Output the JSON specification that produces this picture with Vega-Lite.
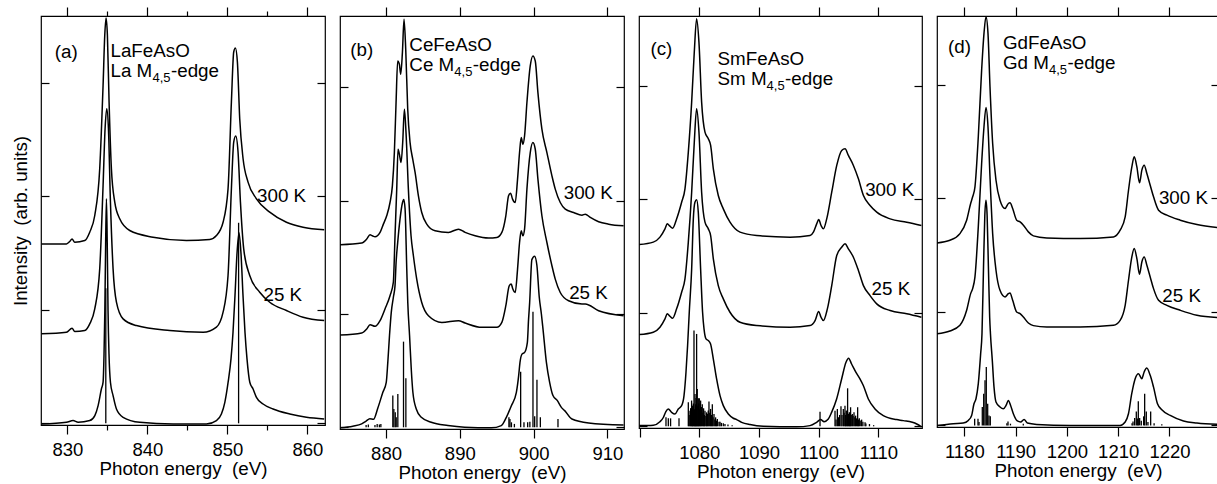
{
"$schema": "https://vega.github.io/schema/vega-lite/v6.json",
"padding": {"left": 10, "top": 5, "right": 0, "bottom": 0},
"background": "white",
"bounds": "flush",
"spacing": 15,
"config": {
  "view": {"stroke": "black", "strokeWidth": 1.2},
  "font": "Liberation Sans",
  "axis": {"domain": false, "grid": false, "tickColor": "black", "tickWidth": 1.2, "labelColor": "black", "titleColor": "black", "labelFont": "Liberation Sans", "titleFont": "Liberation Sans", "labelFontSize": 18.5, "titleFontSize": 18.8, "titleFontWeight": "normal", "labelPadding": 6, "titlePadding": 1, "format": "d"},
  "text": {"font": "Liberation Sans", "fontSize": 18.8, "color": "black"}
},
"datasets": {
"curves": [
{"p":"a","s":"300 K","x":826.75,"y":1.581},{"p":"a","s":"300 K","x":829.88,"y":1.581},{"p":"a","s":"300 K","x":830.29,"y":1.602},{"p":"a","s":"300 K","x":830.58,"y":1.625},{"p":"a","s":"300 K","x":830.92,"y":1.596},{"p":"a","s":"300 K","x":832.17,"y":1.611},{"p":"a","s":"300 K","x":832.79,"y":1.684},{"p":"a","s":"300 K","x":833.42,"y":1.831},{"p":"a","s":"300 K","x":834.04,"y":2.243},{"p":"a","s":"300 K","x":834.46,"y":2.978},{"p":"a","s":"300 K","x":834.67,"y":3.419},{"p":"a","s":"300 K","x":834.83,"y":3.571},{"p":"a","s":"300 K","x":835.0,"y":3.419},{"p":"a","s":"300 K","x":835.21,"y":2.831},{"p":"a","s":"300 K","x":835.5,"y":2.243},{"p":"a","s":"300 K","x":835.92,"y":1.949},{"p":"a","s":"300 K","x":836.54,"y":1.802},{"p":"a","s":"300 K","x":837.79,"y":1.699},{"p":"a","s":"300 K","x":840.71,"y":1.64},{"p":"a","s":"300 K","x":844.88,"y":1.611},{"p":"a","s":"300 K","x":847.79,"y":1.62},{"p":"a","s":"300 K","x":848.63,"y":1.655},{"p":"a","s":"300 K","x":849.46,"y":1.772},{"p":"a","s":"300 K","x":850.08,"y":2.066},{"p":"a","s":"300 K","x":850.5,"y":2.831},{"p":"a","s":"300 K","x":850.79,"y":3.272},{"p":"a","s":"300 K","x":851.0,"y":3.307},{"p":"a","s":"300 K","x":851.25,"y":3.183},{"p":"a","s":"300 K","x":851.54,"y":2.684},{"p":"a","s":"300 K","x":851.96,"y":2.331},{"p":"a","s":"300 K","x":852.58,"y":2.125},{"p":"a","s":"300 K","x":853.63,"y":1.978},{"p":"a","s":"300 K","x":855.29,"y":1.861},{"p":"a","s":"300 K","x":857.38,"y":1.772},{"p":"a","s":"300 K","x":859.46,"y":1.728},{"p":"a","s":"300 K","x":862.1,"y":1.705},
{"p":"a","s":"25 K","x":826.75,"y":0.788},{"p":"a","s":"25 K","x":829.88,"y":0.802},{"p":"a","s":"25 K","x":830.58,"y":0.838},{"p":"a","s":"25 K","x":830.92,"y":0.808},{"p":"a","s":"25 K","x":832.17,"y":0.817},{"p":"a","s":"25 K","x":832.79,"y":0.876},{"p":"a","s":"25 K","x":833.42,"y":1.008},{"p":"a","s":"25 K","x":834.04,"y":1.361},{"p":"a","s":"25 K","x":834.46,"y":2.096},{"p":"a","s":"25 K","x":834.71,"y":2.596},{"p":"a","s":"25 K","x":834.92,"y":2.772},{"p":"a","s":"25 K","x":835.13,"y":2.596},{"p":"a","s":"25 K","x":835.38,"y":1.949},{"p":"a","s":"25 K","x":835.71,"y":1.361},{"p":"a","s":"25 K","x":836.13,"y":1.067},{"p":"a","s":"25 K","x":836.96,"y":0.92},{"p":"a","s":"25 K","x":838.63,"y":0.861},{"p":"a","s":"25 K","x":842.79,"y":0.817},{"p":"a","s":"25 K","x":846.96,"y":0.802},{"p":"a","s":"25 K","x":848.63,"y":0.847},{"p":"a","s":"25 K","x":849.46,"y":0.979},{"p":"a","s":"25 K","x":850.08,"y":1.302},{"p":"a","s":"25 K","x":850.5,"y":2.066},{"p":"a","s":"25 K","x":850.79,"y":2.478},{"p":"a","s":"25 K","x":851.04,"y":2.531},{"p":"a","s":"25 K","x":851.33,"y":2.39},{"p":"a","s":"25 K","x":851.63,"y":1.949},{"p":"a","s":"25 K","x":852.04,"y":1.537},{"p":"a","s":"25 K","x":852.79,"y":1.302},{"p":"a","s":"25 K","x":854.04,"y":1.155},{"p":"a","s":"25 K","x":855.29,"y":1.067},{"p":"a","s":"25 K","x":857.38,"y":0.994},{"p":"a","s":"25 K","x":859.46,"y":0.935},{"p":"a","s":"25 K","x":862.1,"y":0.905},
{"p":"a","s":"calc","x":826.75,"y":-0.006},{"p":"a","s":"calc","x":829.88,"y":0.009},{"p":"a","s":"calc","x":830.71,"y":0.024},{"p":"a","s":"calc","x":831.34,"y":0.009},{"p":"a","s":"calc","x":832.8,"y":0.024},{"p":"a","s":"calc","x":833.43,"y":0.068},{"p":"a","s":"calc","x":833.84,"y":0.156},{"p":"a","s":"calc","x":834.25,"y":0.302},{"p":"a","s":"calc","x":834.46,"y":0.362},{"p":"a","s":"calc","x":834.58,"y":0.61},{"p":"a","s":"calc","x":834.68,"y":0.99},{"p":"a","s":"calc","x":834.78,"y":1.58},{"p":"a","s":"calc","x":834.88,"y":1.978},{"p":"a","s":"calc","x":834.98,"y":1.58},{"p":"a","s":"calc","x":835.08,"y":0.99},{"p":"a","s":"calc","x":835.2,"y":0.61},{"p":"a","s":"calc","x":835.38,"y":0.362},{"p":"a","s":"calc","x":835.71,"y":0.244},{"p":"a","s":"calc","x":836.13,"y":0.126},{"p":"a","s":"calc","x":836.96,"y":0.053},{"p":"a","s":"calc","x":839.05,"y":0.009},{"p":"a","s":"calc","x":843.21,"y":-0.006},{"p":"a","s":"calc","x":847.38,"y":-0.006},{"p":"a","s":"calc","x":848.63,"y":0.024},{"p":"a","s":"calc","x":849.25,"y":0.082},{"p":"a","s":"calc","x":849.68,"y":0.185},{"p":"a","s":"calc","x":850.09,"y":0.362},{"p":"a","s":"calc","x":850.45,"y":0.568},{"p":"a","s":"calc","x":850.7,"y":0.8},{"p":"a","s":"calc","x":850.95,"y":1.127},{"p":"a","s":"calc","x":851.2,"y":1.495},{"p":"a","s":"calc","x":851.45,"y":1.678},{"p":"a","s":"calc","x":851.7,"y":1.495},{"p":"a","s":"calc","x":851.95,"y":1.127},{"p":"a","s":"calc","x":852.2,"y":0.8},{"p":"a","s":"calc","x":852.45,"y":0.568},{"p":"a","s":"calc","x":852.8,"y":0.362},{"p":"a","s":"calc","x":853.21,"y":0.302},{"p":"a","s":"calc","x":853.63,"y":0.229},{"p":"a","s":"calc","x":854.46,"y":0.17},{"p":"a","s":"calc","x":855.71,"y":0.126},{"p":"a","s":"calc","x":857.8,"y":0.082},{"p":"a","s":"calc","x":859.88,"y":0.053},{"p":"a","s":"calc","x":862.1,"y":0.038},

{"p":"b","s":"300 K","x":873.8,"y":1.611},{"p":"b","s":"300 K","x":876.7,"y":1.626},{"p":"b","s":"300 K","x":877.38,"y":1.661},{"p":"b","s":"300 K","x":877.83,"y":1.699},{"p":"b","s":"300 K","x":878.14,"y":1.69},{"p":"b","s":"300 K","x":878.51,"y":1.681},{"p":"b","s":"300 K","x":879.19,"y":1.72},{"p":"b","s":"300 K","x":879.64,"y":1.793},{"p":"b","s":"300 K","x":880.09,"y":1.867},{"p":"b","s":"300 K","x":880.54,"y":1.984},{"p":"b","s":"300 K","x":880.86,"y":2.131},{"p":"b","s":"300 K","x":881.13,"y":2.425},{"p":"b","s":"300 K","x":881.36,"y":2.866},{"p":"b","s":"300 K","x":881.58,"y":3.233},{"p":"b","s":"300 K","x":881.81,"y":3.204},{"p":"b","s":"300 K","x":881.99,"y":3.116},{"p":"b","s":"300 K","x":882.22,"y":3.307},{"p":"b","s":"300 K","x":882.44,"y":3.601},{"p":"b","s":"300 K","x":882.67,"y":3.336},{"p":"b","s":"300 K","x":882.94,"y":2.807},{"p":"b","s":"300 K","x":883.26,"y":2.513},{"p":"b","s":"300 K","x":883.62,"y":2.366},{"p":"b","s":"300 K","x":883.94,"y":2.249},{"p":"b","s":"300 K","x":884.39,"y":2.043},{"p":"b","s":"300 K","x":884.84,"y":1.896},{"p":"b","s":"300 K","x":885.52,"y":1.793},{"p":"b","s":"300 K","x":886.65,"y":1.734},{"p":"b","s":"300 K","x":888.46,"y":1.72},{"p":"b","s":"300 K","x":889.82,"y":1.749},{"p":"b","s":"300 K","x":890.72,"y":1.72},{"p":"b","s":"300 K","x":892.08,"y":1.69},{"p":"b","s":"300 K","x":893.89,"y":1.67},{"p":"b","s":"300 K","x":895.02,"y":1.675},{"p":"b","s":"300 K","x":895.7,"y":1.72},{"p":"b","s":"300 K","x":896.24,"y":1.867},{"p":"b","s":"300 K","x":896.61,"y":2.043},{"p":"b","s":"300 K","x":896.88,"y":2.066},{"p":"b","s":"300 K","x":897.15,"y":2.014},{"p":"b","s":"300 K","x":897.51,"y":1.984},{"p":"b","s":"300 K","x":897.83,"y":2.19},{"p":"b","s":"300 K","x":898.1,"y":2.425},{"p":"b","s":"300 K","x":898.33,"y":2.557},{"p":"b","s":"300 K","x":898.55,"y":2.499},{"p":"b","s":"300 K","x":898.78,"y":2.572},{"p":"b","s":"300 K","x":899.1,"y":2.866},{"p":"b","s":"300 K","x":899.55,"y":3.189},{"p":"b","s":"300 K","x":899.91,"y":3.277},{"p":"b","s":"300 K","x":900.23,"y":3.233},{"p":"b","s":"300 K","x":900.59,"y":2.954},{"p":"b","s":"300 K","x":901.13,"y":2.631},{"p":"b","s":"300 K","x":901.81,"y":2.425},{"p":"b","s":"300 K","x":902.49,"y":2.219},{"p":"b","s":"300 K","x":902.94,"y":2.102},{"p":"b","s":"300 K","x":903.62,"y":1.984},{"p":"b","s":"300 K","x":904.3,"y":1.925},{"p":"b","s":"300 K","x":905.43,"y":1.896},{"p":"b","s":"300 K","x":906.56,"y":1.872},{"p":"b","s":"300 K","x":907.01,"y":1.881},{"p":"b","s":"300 K","x":907.69,"y":1.852},{"p":"b","s":"300 K","x":908.82,"y":1.814},{"p":"b","s":"300 K","x":910.18,"y":1.793},{"p":"b","s":"300 K","x":912.2,"y":1.778},
{"p":"b","s":"25 K","x":873.8,"y":0.814},{"p":"b","s":"25 K","x":876.7,"y":0.832},{"p":"b","s":"25 K","x":877.38,"y":0.867},{"p":"b","s":"25 K","x":877.83,"y":0.905},{"p":"b","s":"25 K","x":878.51,"y":0.891},{"p":"b","s":"25 K","x":879.19,"y":0.941},{"p":"b","s":"25 K","x":879.86,"y":1.044},{"p":"b","s":"25 K","x":880.54,"y":1.161},{"p":"b","s":"25 K","x":880.99,"y":1.279},{"p":"b","s":"25 K","x":881.22,"y":1.69},{"p":"b","s":"25 K","x":881.45,"y":2.102},{"p":"b","s":"25 K","x":881.63,"y":2.454},{"p":"b","s":"25 K","x":881.81,"y":2.41},{"p":"b","s":"25 K","x":882.04,"y":2.337},{"p":"b","s":"25 K","x":882.26,"y":2.513},{"p":"b","s":"25 K","x":882.49,"y":2.807},{"p":"b","s":"25 K","x":882.71,"y":2.601},{"p":"b","s":"25 K","x":883.03,"y":2.102},{"p":"b","s":"25 K","x":883.39,"y":1.69},{"p":"b","s":"25 K","x":883.71,"y":1.514},{"p":"b","s":"25 K","x":884.16,"y":1.308},{"p":"b","s":"25 K","x":884.84,"y":1.102},{"p":"b","s":"25 K","x":885.75,"y":0.985},{"p":"b","s":"25 K","x":887.56,"y":0.926},{"p":"b","s":"25 K","x":889.82,"y":0.941},{"p":"b","s":"25 K","x":890.72,"y":0.92},{"p":"b","s":"25 K","x":892.99,"y":0.882},{"p":"b","s":"25 K","x":895.02,"y":0.882},{"p":"b","s":"25 K","x":895.7,"y":0.926},{"p":"b","s":"25 K","x":896.24,"y":1.073},{"p":"b","s":"25 K","x":896.7,"y":1.249},{"p":"b","s":"25 K","x":896.97,"y":1.264},{"p":"b","s":"25 K","x":897.19,"y":1.22},{"p":"b","s":"25 K","x":897.51,"y":1.19},{"p":"b","s":"25 K","x":897.83,"y":1.396},{"p":"b","s":"25 K","x":898.1,"y":1.631},{"p":"b","s":"25 K","x":898.33,"y":1.734},{"p":"b","s":"25 K","x":898.55,"y":1.69},{"p":"b","s":"25 K","x":898.78,"y":1.749},{"p":"b","s":"25 K","x":899.1,"y":2.102},{"p":"b","s":"25 K","x":899.55,"y":2.425},{"p":"b","s":"25 K","x":899.91,"y":2.513},{"p":"b","s":"25 K","x":900.23,"y":2.454},{"p":"b","s":"25 K","x":900.59,"y":2.19},{"p":"b","s":"25 K","x":901.13,"y":1.867},{"p":"b","s":"25 K","x":901.81,"y":1.631},{"p":"b","s":"25 K","x":902.49,"y":1.426},{"p":"b","s":"25 K","x":902.94,"y":1.308},{"p":"b","s":"25 K","x":903.62,"y":1.19},{"p":"b","s":"25 K","x":904.75,"y":1.117},{"p":"b","s":"25 K","x":906.56,"y":1.088},{"p":"b","s":"25 K","x":907.01,"y":1.088},{"p":"b","s":"25 K","x":908.82,"y":1.029},{"p":"b","s":"25 K","x":912.2,"y":0.985},
{"p":"b","s":"calc","x":873.8,"y":-0.005},{"p":"b","s":"calc","x":875.5,"y":0.01},{"p":"b","s":"calc","x":876.7,"y":0.03},{"p":"b","s":"calc","x":877.3,"y":0.055},{"p":"b","s":"calc","x":877.8,"y":0.075},{"p":"b","s":"calc","x":878.3,"y":0.07},{"p":"b","s":"calc","x":878.89,"y":0.17},{"p":"b","s":"calc","x":879.57,"y":0.309},{"p":"b","s":"calc","x":880.03,"y":0.397},{"p":"b","s":"calc","x":880.24,"y":0.573},{"p":"b","s":"calc","x":880.47,"y":0.809},{"p":"b","s":"calc","x":880.71,"y":1.014},{"p":"b","s":"calc","x":881.0,"y":1.15},{"p":"b","s":"calc","x":881.22,"y":1.25},{"p":"b","s":"calc","x":881.36,"y":1.45},{"p":"b","s":"calc","x":881.58,"y":1.63},{"p":"b","s":"calc","x":881.9,"y":1.84},{"p":"b","s":"calc","x":882.22,"y":1.98},{"p":"b","s":"calc","x":882.4,"y":2.01},{"p":"b","s":"calc","x":882.58,"y":1.93},{"p":"b","s":"calc","x":882.81,"y":1.4},{"p":"b","s":"calc","x":882.95,"y":1.1},{"p":"b","s":"calc","x":883.19,"y":0.81},{"p":"b","s":"calc","x":883.42,"y":0.514},{"p":"b","s":"calc","x":883.64,"y":0.309},{"p":"b","s":"calc","x":884.1,"y":0.161},{"p":"b","s":"calc","x":884.78,"y":0.088},{"p":"b","s":"calc","x":886.13,"y":0.044},{"p":"b","s":"calc","x":888.39,"y":0.015},{"p":"b","s":"calc","x":890.65,"y":0.0},{"p":"b","s":"calc","x":894.27,"y":-0.005},{"p":"b","s":"calc","x":895.63,"y":0.015},{"p":"b","s":"calc","x":896.31,"y":0.088},{"p":"b","s":"calc","x":896.99,"y":0.191},{"p":"b","s":"calc","x":897.67,"y":0.309},{"p":"b","s":"calc","x":897.98,"y":0.456},{"p":"b","s":"calc","x":898.16,"y":0.573},{"p":"b","s":"calc","x":898.43,"y":0.646},{"p":"b","s":"calc","x":898.79,"y":0.661},{"p":"b","s":"calc","x":899.16,"y":0.75},{"p":"b","s":"calc","x":899.32,"y":0.95},{"p":"b","s":"calc","x":899.47,"y":1.1},{"p":"b","s":"calc","x":899.77,"y":1.48},{"p":"b","s":"calc","x":900.14,"y":1.51},{"p":"b","s":"calc","x":900.45,"y":1.43},{"p":"b","s":"calc","x":900.77,"y":1.15},{"p":"b","s":"calc","x":901.06,"y":1.0},{"p":"b","s":"calc","x":901.28,"y":0.867},{"p":"b","s":"calc","x":901.74,"y":0.573},{"p":"b","s":"calc","x":902.18,"y":0.397},{"p":"b","s":"calc","x":902.63,"y":0.28},{"p":"b","s":"calc","x":903.23,"y":0.235},{"p":"b","s":"calc","x":903.77,"y":0.176},{"p":"b","s":"calc","x":904.22,"y":0.147},{"p":"b","s":"calc","x":905.2,"y":0.073},{"p":"b","s":"calc","x":907.47,"y":0.038},{"p":"b","s":"calc","x":912.2,"y":0.02},

{"p":"c","s":"300 K","x":1069.95,"y":1.602},{"p":"c","s":"300 K","x":1072.29,"y":1.623},{"p":"c","s":"300 K","x":1073.41,"y":1.667},{"p":"c","s":"300 K","x":1074.25,"y":1.74},{"p":"c","s":"300 K","x":1074.64,"y":1.784},{"p":"c","s":"300 K","x":1075.08,"y":1.764},{"p":"c","s":"300 K","x":1075.53,"y":1.746},{"p":"c","s":"300 K","x":1076.2,"y":1.828},{"p":"c","s":"300 K","x":1077.04,"y":1.975},{"p":"c","s":"300 K","x":1077.6,"y":2.093},{"p":"c","s":"300 K","x":1078.16,"y":2.416},{"p":"c","s":"300 K","x":1078.72,"y":2.857},{"p":"c","s":"300 K","x":1079.16,"y":3.298},{"p":"c","s":"300 K","x":1079.55,"y":3.592},{"p":"c","s":"300 K","x":1079.94,"y":3.386},{"p":"c","s":"300 K","x":1080.39,"y":2.857},{"p":"c","s":"300 K","x":1080.95,"y":2.593},{"p":"c","s":"300 K","x":1081.51,"y":2.534},{"p":"c","s":"300 K","x":1081.9,"y":2.475},{"p":"c","s":"300 K","x":1082.35,"y":2.269},{"p":"c","s":"300 K","x":1083.18,"y":2.034},{"p":"c","s":"300 K","x":1084.02,"y":1.916},{"p":"c","s":"300 K","x":1085.14,"y":1.799},{"p":"c","s":"300 K","x":1086.82,"y":1.711},{"p":"c","s":"300 K","x":1089.61,"y":1.681},{"p":"c","s":"300 K","x":1095.2,"y":1.667},{"p":"c","s":"300 K","x":1098.55,"y":1.681},{"p":"c","s":"300 K","x":1099.11,"y":1.711},{"p":"c","s":"300 K","x":1099.66,"y":1.784},{"p":"c","s":"300 K","x":1100.0,"y":1.822},{"p":"c","s":"300 K","x":1100.39,"y":1.77},{"p":"c","s":"300 K","x":1100.78,"y":1.74},{"p":"c","s":"300 K","x":1101.34,"y":1.828},{"p":"c","s":"300 K","x":1102.18,"y":2.063},{"p":"c","s":"300 K","x":1103.02,"y":2.299},{"p":"c","s":"300 K","x":1103.85,"y":2.431},{"p":"c","s":"300 K","x":1104.41,"y":2.446},{"p":"c","s":"300 K","x":1104.97,"y":2.387},{"p":"c","s":"300 K","x":1105.81,"y":2.299},{"p":"c","s":"300 K","x":1106.65,"y":2.181},{"p":"c","s":"300 K","x":1107.49,"y":2.034},{"p":"c","s":"300 K","x":1108.6,"y":1.946},{"p":"c","s":"300 K","x":1109.72,"y":1.887},{"p":"c","s":"300 K","x":1111.96,"y":1.828},{"p":"c","s":"300 K","x":1114.75,"y":1.799},{"p":"c","s":"300 K","x":1117.2,"y":1.77},
{"p":"c","s":"25 K","x":1069.95,"y":0.808},{"p":"c","s":"25 K","x":1072.29,"y":0.829},{"p":"c","s":"25 K","x":1073.41,"y":0.873},{"p":"c","s":"25 K","x":1074.25,"y":0.947},{"p":"c","s":"25 K","x":1074.64,"y":0.991},{"p":"c","s":"25 K","x":1075.08,"y":0.97},{"p":"c","s":"25 K","x":1075.53,"y":0.952},{"p":"c","s":"25 K","x":1076.2,"y":1.035},{"p":"c","s":"25 K","x":1077.04,"y":1.182},{"p":"c","s":"25 K","x":1077.6,"y":1.299},{"p":"c","s":"25 K","x":1078.16,"y":1.623},{"p":"c","s":"25 K","x":1078.72,"y":2.063},{"p":"c","s":"25 K","x":1079.16,"y":2.504},{"p":"c","s":"25 K","x":1079.55,"y":2.798},{"p":"c","s":"25 K","x":1079.94,"y":2.593},{"p":"c","s":"25 K","x":1080.39,"y":2.063},{"p":"c","s":"25 K","x":1080.95,"y":1.799},{"p":"c","s":"25 K","x":1081.51,"y":1.74},{"p":"c","s":"25 K","x":1081.9,"y":1.681},{"p":"c","s":"25 K","x":1082.35,"y":1.476},{"p":"c","s":"25 K","x":1083.18,"y":1.24},{"p":"c","s":"25 K","x":1084.02,"y":1.123},{"p":"c","s":"25 K","x":1085.14,"y":1.005},{"p":"c","s":"25 K","x":1086.82,"y":0.917},{"p":"c","s":"25 K","x":1089.61,"y":0.888},{"p":"c","s":"25 K","x":1095.2,"y":0.873},{"p":"c","s":"25 K","x":1098.55,"y":0.888},{"p":"c","s":"25 K","x":1099.39,"y":0.932},{"p":"c","s":"25 K","x":1100.0,"y":1.011},{"p":"c","s":"25 K","x":1100.39,"y":0.961},{"p":"c","s":"25 K","x":1100.78,"y":0.932},{"p":"c","s":"25 K","x":1101.45,"y":1.035},{"p":"c","s":"25 K","x":1102.18,"y":1.24},{"p":"c","s":"25 K","x":1103.02,"y":1.505},{"p":"c","s":"25 K","x":1103.85,"y":1.578},{"p":"c","s":"25 K","x":1104.41,"y":1.608},{"p":"c","s":"25 K","x":1104.97,"y":1.564},{"p":"c","s":"25 K","x":1105.81,"y":1.49},{"p":"c","s":"25 K","x":1106.65,"y":1.373},{"p":"c","s":"25 K","x":1107.49,"y":1.24},{"p":"c","s":"25 K","x":1108.6,"y":1.152},{"p":"c","s":"25 K","x":1109.72,"y":1.079},{"p":"c","s":"25 K","x":1111.96,"y":1.02},{"p":"c","s":"25 K","x":1114.75,"y":0.991},{"p":"c","s":"25 K","x":1117.2,"y":0.961},
{"p":"c","s":"calc","x":1069.95,"y":0.006},{"p":"c","s":"calc","x":1072.3,"y":0.01},{"p":"c","s":"calc","x":1073.4,"y":0.04},{"p":"c","s":"calc","x":1074.0,"y":0.08},{"p":"c","s":"calc","x":1074.4,"y":0.13},{"p":"c","s":"calc","x":1074.81,"y":0.153},{"p":"c","s":"calc","x":1075.36,"y":0.123},{"p":"c","s":"calc","x":1075.93,"y":0.108},{"p":"c","s":"calc","x":1076.48,"y":0.153},{"p":"c","s":"calc","x":1077.04,"y":0.182},{"p":"c","s":"calc","x":1077.44,"y":0.27},{"p":"c","s":"calc","x":1077.77,"y":0.476},{"p":"c","s":"calc","x":1078.04,"y":0.712},{"p":"c","s":"calc","x":1078.32,"y":1.005},{"p":"c","s":"calc","x":1078.72,"y":1.387},{"p":"c","s":"calc","x":1079.0,"y":1.828},{"p":"c","s":"calc","x":1079.27,"y":1.975},{"p":"c","s":"calc","x":1079.55,"y":1.996},{"p":"c","s":"calc","x":1079.83,"y":1.887},{"p":"c","s":"calc","x":1080.22,"y":1.387},{"p":"c","s":"calc","x":1080.55,"y":1.005},{"p":"c","s":"calc","x":1080.79,"y":0.858},{"p":"c","s":"calc","x":1081.12,"y":0.77},{"p":"c","s":"calc","x":1081.51,"y":0.756},{"p":"c","s":"calc","x":1081.89,"y":0.726},{"p":"c","s":"calc","x":1082.35,"y":0.593},{"p":"c","s":"calc","x":1082.9,"y":0.417},{"p":"c","s":"calc","x":1083.47,"y":0.27},{"p":"c","s":"calc","x":1084.02,"y":0.182},{"p":"c","s":"calc","x":1084.86,"y":0.108},{"p":"c","s":"calc","x":1085.7,"y":0.071},{"p":"c","s":"calc","x":1086.25,"y":0.059},{"p":"c","s":"calc","x":1087.09,"y":0.035},{"p":"c","s":"calc","x":1088.49,"y":0.015},{"p":"c","s":"calc","x":1090.72,"y":0.0},{"p":"c","s":"calc","x":1096.3,"y":-0.005},{"p":"c","s":"calc","x":1098.54,"y":0.006},{"p":"c","s":"calc","x":1099.65,"y":0.035},{"p":"c","s":"calc","x":1100.32,"y":0.059},{"p":"c","s":"calc","x":1100.89,"y":0.041},{"p":"c","s":"calc","x":1101.61,"y":0.064},{"p":"c","s":"calc","x":1102.16,"y":0.123},{"p":"c","s":"calc","x":1103.0,"y":0.241},{"p":"c","s":"calc","x":1103.84,"y":0.417},{"p":"c","s":"calc","x":1104.57,"y":0.564},{"p":"c","s":"calc","x":1105.0,"y":0.6},{"p":"c","s":"calc","x":1105.51,"y":0.549},{"p":"c","s":"calc","x":1106.24,"y":0.476},{"p":"c","s":"calc","x":1106.91,"y":0.417},{"p":"c","s":"calc","x":1107.47,"y":0.359},{"p":"c","s":"calc","x":1108.31,"y":0.241},{"p":"c","s":"calc","x":1109.43,"y":0.153},{"p":"c","s":"calc","x":1110.82,"y":0.094},{"p":"c","s":"calc","x":1113.05,"y":0.059},{"p":"c","s":"calc","x":1114.17,"y":0.05},{"p":"c","s":"calc","x":1116.42,"y":0.02},{"p":"c","s":"calc","x":1117.2,"y":-0.005},

{"p":"d","s":"300 K","x":1174.7,"y":1.608},{"p":"d","s":"300 K","x":1177.2,"y":1.631},{"p":"d","s":"300 K","x":1179.15,"y":1.69},{"p":"d","s":"300 K","x":1180.46,"y":1.808},{"p":"d","s":"300 K","x":1181.24,"y":1.955},{"p":"d","s":"300 K","x":1181.63,"y":2.014},{"p":"d","s":"300 K","x":1182.08,"y":2.102},{"p":"d","s":"300 K","x":1182.73,"y":2.543},{"p":"d","s":"300 K","x":1183.38,"y":3.13},{"p":"d","s":"300 K","x":1183.84,"y":3.454},{"p":"d","s":"300 K","x":1184.23,"y":3.601},{"p":"d","s":"300 K","x":1184.62,"y":3.454},{"p":"d","s":"300 K","x":1185.01,"y":2.984},{"p":"d","s":"300 K","x":1185.53,"y":2.484},{"p":"d","s":"300 K","x":1186.18,"y":2.16},{"p":"d","s":"300 K","x":1186.96,"y":1.984},{"p":"d","s":"300 K","x":1187.94,"y":1.911},{"p":"d","s":"300 K","x":1188.59,"y":1.955},{"p":"d","s":"300 K","x":1188.91,"y":1.961},{"p":"d","s":"300 K","x":1189.43,"y":1.911},{"p":"d","s":"300 K","x":1190.21,"y":1.808},{"p":"d","s":"300 K","x":1190.87,"y":1.793},{"p":"d","s":"300 K","x":1191.52,"y":1.764},{"p":"d","s":"300 K","x":1192.49,"y":1.705},{"p":"d","s":"300 K","x":1193.47,"y":1.67},{"p":"d","s":"300 K","x":1196.07,"y":1.652},{"p":"d","s":"300 K","x":1202.58,"y":1.646},{"p":"d","s":"300 K","x":1209.08,"y":1.661},{"p":"d","s":"300 K","x":1210.38,"y":1.72},{"p":"d","s":"300 K","x":1211.36,"y":1.837},{"p":"d","s":"300 K","x":1212.01,"y":2.072},{"p":"d","s":"300 K","x":1212.66,"y":2.278},{"p":"d","s":"300 K","x":1213.12,"y":2.366},{"p":"d","s":"300 K","x":1213.64,"y":2.278},{"p":"d","s":"300 K","x":1214.16,"y":2.137},{"p":"d","s":"300 K","x":1214.61,"y":2.249},{"p":"d","s":"300 K","x":1215.07,"y":2.293},{"p":"d","s":"300 K","x":1215.59,"y":2.219},{"p":"d","s":"300 K","x":1216.24,"y":2.116},{"p":"d","s":"300 K","x":1216.89,"y":2.014},{"p":"d","s":"300 K","x":1217.87,"y":1.896},{"p":"d","s":"300 K","x":1219.49,"y":1.852},{"p":"d","s":"300 K","x":1222.1,"y":1.808},{"p":"d","s":"300 K","x":1225.35,"y":1.77},{"p":"d","s":"300 K","x":1229.6,"y":1.743},
{"p":"d","s":"25 K","x":1174.7,"y":0.808},{"p":"d","s":"25 K","x":1177.2,"y":0.832},{"p":"d","s":"25 K","x":1179.15,"y":0.882},{"p":"d","s":"25 K","x":1180.46,"y":1.014},{"p":"d","s":"25 K","x":1181.24,"y":1.161},{"p":"d","s":"25 K","x":1181.63,"y":1.205},{"p":"d","s":"25 K","x":1182.08,"y":1.308},{"p":"d","s":"25 K","x":1182.73,"y":1.749},{"p":"d","s":"25 K","x":1183.38,"y":2.307},{"p":"d","s":"25 K","x":1183.84,"y":2.631},{"p":"d","s":"25 K","x":1184.23,"y":2.801},{"p":"d","s":"25 K","x":1184.62,"y":2.631},{"p":"d","s":"25 K","x":1185.01,"y":2.19},{"p":"d","s":"25 K","x":1185.53,"y":1.69},{"p":"d","s":"25 K","x":1186.18,"y":1.367},{"p":"d","s":"25 K","x":1186.96,"y":1.19},{"p":"d","s":"25 K","x":1187.94,"y":1.132},{"p":"d","s":"25 K","x":1188.59,"y":1.161},{"p":"d","s":"25 K","x":1188.91,"y":1.167},{"p":"d","s":"25 K","x":1189.43,"y":1.102},{"p":"d","s":"25 K","x":1190.21,"y":0.999},{"p":"d","s":"25 K","x":1190.87,"y":0.985},{"p":"d","s":"25 K","x":1191.52,"y":0.955},{"p":"d","s":"25 K","x":1192.49,"y":0.902},{"p":"d","s":"25 K","x":1193.47,"y":0.879},{"p":"d","s":"25 K","x":1196.07,"y":0.867},{"p":"d","s":"25 K","x":1202.58,"y":0.867},{"p":"d","s":"25 K","x":1209.08,"y":0.882},{"p":"d","s":"25 K","x":1210.38,"y":0.926},{"p":"d","s":"25 K","x":1211.36,"y":1.058},{"p":"d","s":"25 K","x":1212.01,"y":1.279},{"p":"d","s":"25 K","x":1212.66,"y":1.484},{"p":"d","s":"25 K","x":1213.12,"y":1.558},{"p":"d","s":"25 K","x":1213.64,"y":1.47},{"p":"d","s":"25 K","x":1214.16,"y":1.332},{"p":"d","s":"25 K","x":1214.61,"y":1.44},{"p":"d","s":"25 K","x":1215.07,"y":1.484},{"p":"d","s":"25 K","x":1215.59,"y":1.411},{"p":"d","s":"25 K","x":1216.24,"y":1.308},{"p":"d","s":"25 K","x":1216.89,"y":1.205},{"p":"d","s":"25 K","x":1217.87,"y":1.102},{"p":"d","s":"25 K","x":1219.49,"y":1.058},{"p":"d","s":"25 K","x":1222.1,"y":1.014},{"p":"d","s":"25 K","x":1225.35,"y":0.97},{"p":"d","s":"25 K","x":1229.6,"y":0.949},
{"p":"d","s":"calc","x":1174.7,"y":0.0},{"p":"d","s":"calc","x":1177.85,"y":0.015},{"p":"d","s":"calc","x":1179.8,"y":0.021},{"p":"d","s":"calc","x":1180.78,"y":0.044},{"p":"d","s":"calc","x":1181.43,"y":0.088},{"p":"d","s":"calc","x":1181.89,"y":0.191},{"p":"d","s":"calc","x":1182.28,"y":0.235},{"p":"d","s":"calc","x":1182.73,"y":0.368},{"p":"d","s":"calc","x":1183.19,"y":0.632},{"p":"d","s":"calc","x":1183.45,"y":0.808},{"p":"d","s":"calc","x":1183.75,"y":1.4},{"p":"d","s":"calc","x":1184.0,"y":1.85},{"p":"d","s":"calc","x":1184.23,"y":1.984},{"p":"d","s":"calc","x":1184.45,"y":1.85},{"p":"d","s":"calc","x":1184.7,"y":1.4},{"p":"d","s":"calc","x":1184.95,"y":0.95},{"p":"d","s":"calc","x":1185.1,"y":0.808},{"p":"d","s":"calc","x":1185.46,"y":0.573},{"p":"d","s":"calc","x":1185.79,"y":0.339},{"p":"d","s":"calc","x":1186.18,"y":0.206},{"p":"d","s":"calc","x":1186.96,"y":0.162},{"p":"d","s":"calc","x":1187.61,"y":0.147},{"p":"d","s":"calc","x":1188.14,"y":0.176},{"p":"d","s":"calc","x":1188.59,"y":0.22},{"p":"d","s":"calc","x":1189.03,"y":0.176},{"p":"d","s":"calc","x":1189.56,"y":0.103},{"p":"d","s":"calc","x":1190.34,"y":0.039},{"p":"d","s":"calc","x":1190.99,"y":0.03},{"p":"d","s":"calc","x":1191.65,"y":0.053},{"p":"d","s":"calc","x":1192.29,"y":0.021},{"p":"d","s":"calc","x":1194.11,"y":0.009},{"p":"d","s":"calc","x":1200.62,"y":0.0},{"p":"d","s":"calc","x":1210.38,"y":0.0},{"p":"d","s":"calc","x":1211.36,"y":0.03},{"p":"d","s":"calc","x":1212.0,"y":0.103},{"p":"d","s":"calc","x":1212.64,"y":0.28},{"p":"d","s":"calc","x":1213.31,"y":0.412},{"p":"d","s":"calc","x":1213.95,"y":0.456},{"p":"d","s":"calc","x":1214.6,"y":0.412},{"p":"d","s":"calc","x":1215.06,"y":0.471},{"p":"d","s":"calc","x":1215.57,"y":0.506},{"p":"d","s":"calc","x":1216.24,"y":0.441},{"p":"d","s":"calc","x":1216.88,"y":0.339},{"p":"d","s":"calc","x":1217.66,"y":0.191},{"p":"d","s":"calc","x":1218.5,"y":0.138},{"p":"d","s":"calc","x":1220.14,"y":0.088},{"p":"d","s":"calc","x":1222.73,"y":0.039},{"p":"d","s":"calc","x":1225.35,"y":0.021},{"p":"d","s":"calc","x":1229.6,"y":0.009}
],
"sticks": [
{"p":"a","x":834.8,"h":1.19},{"p":"a","x":851.4,"h":1.767},
{"p":"b","x":877.3,"h":0.02},{"p":"b","x":877.6,"h":0.025},{"p":"b","x":878.5,"h":0.02},{"p":"b","x":878.8,"h":0.03},{"p":"b","x":879.1,"h":0.025},{"p":"b","x":879.3,"h":0.03},{"p":"b","x":880.92,"h":0.28},{"p":"b","x":881.06,"h":0.161},{"p":"b","x":881.25,"h":0.132},{"p":"b","x":881.38,"h":0.088},{"p":"b","x":881.6,"h":0.294},{"p":"b","x":882.37,"h":0.756},{"p":"b","x":882.69,"h":0.432},{"p":"b","x":896.66,"h":0.088},{"p":"b","x":896.8,"h":0.073},{"p":"b","x":897.0,"h":0.044},{"p":"b","x":897.4,"h":0.03},{"p":"b","x":898.25,"h":0.491},{"p":"b","x":898.7,"h":0.044},{"p":"b","x":899.2,"h":0.044},{"p":"b","x":899.5,"h":0.05},{"p":"b","x":899.92,"h":1.02},{"p":"b","x":900.15,"h":0.097},{"p":"b","x":900.46,"h":0.42},{"p":"b","x":900.92,"h":0.088},{"p":"b","x":903.31,"h":0.073},
{"p":"c","x":1074.42,"h":0.079},{"p":"c","x":1074.81,"h":0.07},{"p":"c","x":1075.19,"h":0.07},{"p":"c","x":1076.6,"h":0.07},{"p":"c","x":1078.16,"h":0.212},{"p":"c","x":1078.3,"h":0.1},{"p":"c","x":1078.44,"h":0.138},{"p":"c","x":1078.55,"h":0.16},{"p":"c","x":1078.71,"h":0.227},{"p":"c","x":1078.8,"h":0.12},{"p":"c","x":1078.88,"h":0.182},{"p":"c","x":1079.0,"h":0.2},{"p":"c","x":1079.11,"h":0.844},{"p":"c","x":1079.2,"h":0.15},{"p":"c","x":1079.28,"h":0.285},{"p":"c","x":1079.38,"h":0.194},{"p":"c","x":1079.45,"h":0.25},{"p":"c","x":1079.55,"h":0.814},{"p":"c","x":1079.66,"h":0.329},{"p":"c","x":1079.75,"h":0.18},{"p":"c","x":1079.83,"h":0.247},{"p":"c","x":1079.92,"h":0.2},{"p":"c","x":1080.0,"h":0.247},{"p":"c","x":1080.1,"h":0.15},{"p":"c","x":1080.22,"h":0.227},{"p":"c","x":1080.35,"h":0.17},{"p":"c","x":1080.5,"h":0.194},{"p":"c","x":1080.6,"h":0.12},{"p":"c","x":1080.72,"h":0.159},{"p":"c","x":1080.85,"h":0.1},{"p":"c","x":1080.95,"h":0.138},{"p":"c","x":1081.1,"h":0.09},{"p":"c","x":1081.22,"h":0.123},{"p":"c","x":1081.35,"h":0.11},{"p":"c","x":1081.5,"h":0.14},{"p":"c","x":1081.62,"h":0.218},{"p":"c","x":1081.75,"h":0.12},{"p":"c","x":1081.89,"h":0.153},{"p":"c","x":1082.05,"h":0.1},{"p":"c","x":1082.18,"h":0.194},{"p":"c","x":1082.3,"h":0.08},{"p":"c","x":1082.46,"h":0.108},{"p":"c","x":1082.6,"h":0.06},{"p":"c","x":1082.73,"h":0.079},{"p":"c","x":1082.9,"h":0.05},{"p":"c","x":1083.02,"h":0.064},{"p":"c","x":1083.3,"h":0.04},{"p":"c","x":1083.47,"h":0.041},{"p":"c","x":1083.7,"h":0.03},{"p":"c","x":1084.02,"h":0.026},{"p":"c","x":1084.3,"h":0.02},{"p":"c","x":1084.8,"h":0.015},{"p":"c","x":1085.5,"h":0.01},{"p":"c","x":1100.22,"h":0.129},{"p":"c","x":1102.73,"h":0.138},{"p":"c","x":1102.9,"h":0.06},{"p":"c","x":1103.12,"h":0.153},{"p":"c","x":1103.3,"h":0.08},{"p":"c","x":1103.5,"h":0.1},{"p":"c","x":1103.73,"h":0.176},{"p":"c","x":1103.9,"h":0.1},{"p":"c","x":1104.12,"h":0.153},{"p":"c","x":1104.25,"h":0.12},{"p":"c","x":1104.4,"h":0.182},{"p":"c","x":1104.5,"h":0.1},{"p":"c","x":1104.62,"h":0.138},{"p":"c","x":1104.75,"h":0.14},{"p":"c","x":1104.84,"h":0.335},{"p":"c","x":1105.0,"h":0.11},{"p":"c","x":1105.13,"h":0.123},{"p":"c","x":1105.2,"h":0.12},{"p":"c","x":1105.34,"h":0.168},{"p":"c","x":1105.45,"h":0.1},{"p":"c","x":1105.63,"h":0.108},{"p":"c","x":1105.75,"h":0.09},{"p":"c","x":1105.91,"h":0.123},{"p":"c","x":1106.05,"h":0.08},{"p":"c","x":1106.18,"h":0.094},{"p":"c","x":1106.35,"h":0.07},{"p":"c","x":1106.52,"h":0.168},{"p":"c","x":1106.65,"h":0.06},{"p":"c","x":1106.8,"h":0.07},{"p":"c","x":1106.95,"h":0.05},{"p":"c","x":1107.19,"h":0.059},{"p":"c","x":1107.4,"h":0.04},{"p":"c","x":1107.76,"h":0.035},{"p":"c","x":1107.9,"h":0.025},{"p":"c","x":1108.5,"h":0.02},{"p":"c","x":1109.2,"h":0.01},
{"p":"d","x":1182.02,"h":0.059},{"p":"d","x":1182.67,"h":0.059},{"p":"d","x":1182.87,"h":0.03},{"p":"d","x":1183.51,"h":0.162},{"p":"d","x":1183.78,"h":0.28},{"p":"d","x":1184.04,"h":0.397},{"p":"d","x":1184.29,"h":0.515},{"p":"d","x":1184.56,"h":0.191},{"p":"d","x":1184.81,"h":0.088},{"p":"d","x":1185.07,"h":0.08},{"p":"d","x":1188.3,"h":0.02},{"p":"d","x":1188.52,"h":0.035},{"p":"d","x":1189.0,"h":0.015},{"p":"d","x":1191.5,"h":0.015},{"p":"d","x":1212.7,"h":0.02},{"p":"d","x":1212.89,"h":0.035},{"p":"d","x":1213.21,"h":0.065},{"p":"d","x":1213.53,"h":0.123},{"p":"d","x":1213.8,"h":0.06},{"p":"d","x":1213.92,"h":0.212},{"p":"d","x":1214.18,"h":0.065},{"p":"d","x":1214.5,"h":0.04},{"p":"d","x":1214.96,"h":0.08},{"p":"d","x":1215.16,"h":0.28},{"p":"d","x":1215.48,"h":0.123},{"p":"d","x":1215.8,"h":0.03},{"p":"d","x":1216.33,"h":0.123},{"p":"d","x":1217.0,"h":0.02},{"p":"d","x":1218.5,"h":0.01}
],
"labels": [
{"p":"a","r":"L","x":828.43,"y":3.217,"t":"(a)"},{"p":"a","r":"L","x":835.38,"y":3.228,"t":"LaFeAsO"},{"p":"a","r":"L","x":835.38,"y":3.051,"t":"La M"},{"p":"a","r":"S","x":835.38,"y":3.051,"t":"4,5"},{"p":"a","r":"E","x":835.38,"y":3.051,"t":"-edge"},{"p":"a","r":"R","x":859.84,"y":1.949,"t":"300 K"},{"p":"a","r":"R","x":859.34,"y":1.082,"t":"25 K"},
{"p":"b","r":"L","x":875.16,"y":3.281,"t":"(b)"},{"p":"b","r":"L","x":883.16,"y":3.322,"t":"CeFeAsO"},{"p":"b","r":"L","x":883.16,"y":3.146,"t":"Ce M"},{"p":"b","r":"S","x":883.16,"y":3.146,"t":"4,5"},{"p":"b","r":"E","x":883.16,"y":3.146,"t":"-edge"},{"p":"b","r":"R","x":910.74,"y":2.011,"t":"300 K"},{"p":"b","r":"R","x":910.06,"y":1.129,"t":"25 K"},
{"p":"c","r":"L","x":1071.81,"y":3.272,"t":"(c)"},{"p":"c","r":"L","x":1083.06,"y":3.181,"t":"SmFeAsO"},{"p":"c","r":"L","x":1083.06,"y":3.004,"t":"Sm M"},{"p":"c","r":"S","x":1083.06,"y":3.004,"t":"4,5"},{"p":"c","r":"E","x":1083.06,"y":3.004,"t":"-edge"},{"p":"c","r":"R","x":1116.0,"y":2.028,"t":"300 K"},{"p":"c","r":"R","x":1115.33,"y":1.155,"t":"25 K"},
{"p":"d","r":"L","x":1176.82,"y":3.282,"t":"(d)"},{"p":"d","r":"L","x":1187.54,"y":3.315,"t":"GdFeAsO"},{"p":"d","r":"L","x":1187.54,"y":3.139,"t":"Gd M"},{"p":"d","r":"S","x":1187.54,"y":3.139,"t":"4,5"},{"p":"d","r":"E","x":1187.54,"y":3.139,"t":"-edge"},{"p":"d","r":"R","x":1227.5,"y":1.955,"t":"300 K"},{"p":"d","r":"R","x":1226.14,"y":1.091,"t":"25 K"}
]
},
"hconcat": [
{
 "width": 284, "height": 409,
 "resolve": {"axis": {"x": "independent", "y": "independent"}},
 "layer": [
  {"data": {"name": "curves"}, "transform": [{"filter": "datum.p === 'a'"}],
   "mark": {"type": "line", "color": "black", "strokeWidth": 1.5, "interpolate": "monotone"},
   "encoding": {
    "x": {"field": "x", "type": "quantitative", "scale": {"domain": [826.7, 862.2], "nice": false, "zero": false},
          "axis": {"orient": "bottom", "values": [830,835,840,845,850,855,860], "labelExpr": "datum.value % 10 === 0 ? datum.label : ''", "tickSize": {"condition": {"test": "datum.value % 10 === 0", "value": 9}, "value": 5}, "title": "Photon energy \u00a0(eV)"}},
    "y": {"field": "y", "type": "quantitative", "scale": {"domain": [-0.015, 3.589], "nice": false, "zero": false},
          "axis": {"orient": "left", "values": [0,1,2,3], "labels": false, "tickSize": -8, "title": "Intensity \u00a0(arb. units)", "titlePadding": 10}},
    "detail": {"field": "s"}}},
  {"data": {"name": "sticks"}, "transform": [{"filter": "datum.p === 'a'"}],
   "mark": {"type": "rule", "color": "black", "strokeWidth": 1.3},
   "encoding": {
    "x": {"field": "x", "type": "quantitative", "scale": {"domain": [826.7, 862.2], "nice": false, "zero": false},
          "axis": {"orient": "top", "values": [830,835,840,845,850,855,860], "labels": false, "title": null, "tickSize": {"condition": {"test": "datum.value % 10 === 0", "value": 9}, "value": 5}}},
    "y": {"field": "h", "type": "quantitative", "scale": {"domain": [-0.015, 3.589], "nice": false, "zero": false},
          "axis": {"orient": "right", "values": [0,1,2,3], "labels": false, "title": null, "tickSize": -8}},
    "y2": {"datum": 0}}},
  {"data": {"name": "labels"}, "transform": [{"filter": "datum.p === 'a' && datum.r === 'L'"}],
   "mark": {"type": "text", "align": "left", "baseline": "alphabetic"},
   "encoding": {"x": {"field": "x", "type": "quantitative", "axis": null}, "y": {"field": "y", "type": "quantitative", "axis": null}, "text": {"field": "t"}}},
  {"data": {"name": "labels"}, "transform": [{"filter": "datum.p === 'a' && datum.r === 'S'"}],
   "mark": {"type": "text", "align": "left", "baseline": "alphabetic", "fontSize": 13, "dx": 42, "dy": 5},
   "encoding": {"x": {"field": "x", "type": "quantitative", "axis": null}, "y": {"field": "y", "type": "quantitative", "axis": null}, "text": {"field": "t"}}},
  {"data": {"name": "labels"}, "transform": [{"filter": "datum.p === 'a' && datum.r === 'E'"}],
   "mark": {"type": "text", "align": "left", "baseline": "alphabetic", "dx": 60.5},
   "encoding": {"x": {"field": "x", "type": "quantitative", "axis": null}, "y": {"field": "y", "type": "quantitative", "axis": null}, "text": {"field": "t"}}},
  {"data": {"name": "labels"}, "transform": [{"filter": "datum.p === 'a' && datum.r === 'R'"}],
   "mark": {"type": "text", "align": "right", "baseline": "alphabetic"},
   "encoding": {"x": {"field": "x", "type": "quantitative", "axis": null}, "y": {"field": "y", "type": "quantitative", "axis": null}, "text": {"field": "t"}}}
 ]
},
{
 "width": 284, "height": 413,
 "resolve": {"axis": {"x": "independent", "y": "independent"}},
 "layer": [
  {"data": {"name": "curves"}, "transform": [{"filter": "datum.p === 'b'"}],
   "mark": {"type": "line", "color": "black", "strokeWidth": 1.5, "interpolate": "monotone"},
   "encoding": {
    "x": {"field": "x", "type": "quantitative", "scale": {"domain": [873.76, 912.26], "nice": false, "zero": false},
          "axis": {"orient": "bottom", "values": [880,890,900,910], "tickSize": 9, "title": "Photon energy \u00a0(eV)"}},
    "y": {"field": "y", "type": "quantitative", "scale": {"domain": [-0.015, 3.63], "nice": false, "zero": false},
          "axis": {"orient": "left", "values": [0,1,2,3], "labels": false, "tickSize": -8, "title": null}},
    "detail": {"field": "s"}}},
  {"data": {"name": "sticks"}, "transform": [{"filter": "datum.p === 'b'"}],
   "mark": {"type": "rule", "color": "black", "strokeWidth": 1.3},
   "encoding": {
    "x": {"field": "x", "type": "quantitative", "scale": {"domain": [873.76, 912.26], "nice": false, "zero": false},
          "axis": {"orient": "top", "values": [880,890,900,910], "labels": false, "title": null, "tickSize": 9}},
    "y": {"field": "h", "type": "quantitative", "scale": {"domain": [-0.015, 3.63], "nice": false, "zero": false},
          "axis": {"orient": "right", "values": [0,1,2,3], "labels": false, "title": null, "tickSize": -8}},
    "y2": {"datum": 0}}},
  {"data": {"name": "labels"}, "transform": [{"filter": "datum.p === 'b' && datum.r === 'L'"}],
   "mark": {"type": "text", "align": "left", "baseline": "alphabetic"},
   "encoding": {"x": {"field": "x", "type": "quantitative", "axis": null}, "y": {"field": "y", "type": "quantitative", "axis": null}, "text": {"field": "t"}}},
  {"data": {"name": "labels"}, "transform": [{"filter": "datum.p === 'b' && datum.r === 'S'"}],
   "mark": {"type": "text", "align": "left", "baseline": "alphabetic", "fontSize": 13, "dx": 45, "dy": 5},
   "encoding": {"x": {"field": "x", "type": "quantitative", "axis": null}, "y": {"field": "y", "type": "quantitative", "axis": null}, "text": {"field": "t"}}},
  {"data": {"name": "labels"}, "transform": [{"filter": "datum.p === 'b' && datum.r === 'E'"}],
   "mark": {"type": "text", "align": "left", "baseline": "alphabetic", "dx": 63.5},
   "encoding": {"x": {"field": "x", "type": "quantitative", "axis": null}, "y": {"field": "y", "type": "quantitative", "axis": null}, "text": {"field": "t"}}},
  {"data": {"name": "labels"}, "transform": [{"filter": "datum.p === 'b' && datum.r === 'R'"}],
   "mark": {"type": "text", "align": "right", "baseline": "alphabetic"},
   "encoding": {"x": {"field": "x", "type": "quantitative", "axis": null}, "y": {"field": "y", "type": "quantitative", "axis": null}, "text": {"field": "t"}}}
 ]
},
{
 "width": 283, "height": 412,
 "resolve": {"axis": {"x": "independent", "y": "independent"}},
 "layer": [
  {"data": {"name": "curves"}, "transform": [{"filter": "datum.p === 'c'"}],
   "mark": {"type": "line", "color": "black", "strokeWidth": 1.5, "interpolate": "monotone"},
   "encoding": {
    "x": {"field": "x", "type": "quantitative", "scale": {"domain": [1069.9, 1117.3], "nice": false, "zero": false},
          "axis": {"orient": "bottom", "values": [1070,1080,1090,1100,1110], "labelExpr": "datum.value === 1070 ? '' : datum.label", "tickSize": 9, "title": "Photon energy \u00a0(eV)"}},
    "y": {"field": "y", "type": "quantitative", "scale": {"domain": [-0.015, 3.616], "nice": false, "zero": false},
          "axis": {"orient": "left", "values": [0,1,2,3], "labels": false, "tickSize": -8, "title": null}},
    "detail": {"field": "s"}}},
  {"data": {"name": "sticks"}, "transform": [{"filter": "datum.p === 'c'"}],
   "mark": {"type": "rule", "color": "black", "strokeWidth": 1.3},
   "encoding": {
    "x": {"field": "x", "type": "quantitative", "scale": {"domain": [1069.9, 1117.3], "nice": false, "zero": false},
          "axis": {"orient": "top", "values": [1080,1090,1100,1110], "labels": false, "title": null, "tickSize": 9}},
    "y": {"field": "h", "type": "quantitative", "scale": {"domain": [-0.015, 3.616], "nice": false, "zero": false},
          "axis": {"orient": "right", "values": [0,1,2,3], "labels": false, "title": null, "tickSize": -8}},
    "y2": {"datum": 0}}},
  {"data": {"name": "labels"}, "transform": [{"filter": "datum.p === 'c' && datum.r === 'L'"}],
   "mark": {"type": "text", "align": "left", "baseline": "alphabetic"},
   "encoding": {"x": {"field": "x", "type": "quantitative", "axis": null}, "y": {"field": "y", "type": "quantitative", "axis": null}, "text": {"field": "t"}}},
  {"data": {"name": "labels"}, "transform": [{"filter": "datum.p === 'c' && datum.r === 'S'"}],
   "mark": {"type": "text", "align": "left", "baseline": "alphabetic", "fontSize": 13, "dx": 49, "dy": 5},
   "encoding": {"x": {"field": "x", "type": "quantitative", "axis": null}, "y": {"field": "y", "type": "quantitative", "axis": null}, "text": {"field": "t"}}},
  {"data": {"name": "labels"}, "transform": [{"filter": "datum.p === 'c' && datum.r === 'E'"}],
   "mark": {"type": "text", "align": "left", "baseline": "alphabetic", "dx": 67.5},
   "encoding": {"x": {"field": "x", "type": "quantitative", "axis": null}, "y": {"field": "y", "type": "quantitative", "axis": null}, "text": {"field": "t"}}},
  {"data": {"name": "labels"}, "transform": [{"filter": "datum.p === 'c' && datum.r === 'R'"}],
   "mark": {"type": "text", "align": "right", "baseline": "alphabetic"},
   "encoding": {"x": {"field": "x", "type": "quantitative", "axis": null}, "y": {"field": "y", "type": "quantitative", "axis": null}, "text": {"field": "t"}}}
 ]
},
{
 "width": 282, "height": 411,
 "resolve": {"axis": {"x": "independent", "y": "independent"}},
 "layer": [
  {"data": {"name": "curves"}, "transform": [{"filter": "datum.p === 'd'"}],
   "mark": {"type": "line", "color": "black", "strokeWidth": 1.5, "interpolate": "monotone"},
   "encoding": {
    "x": {"field": "x", "type": "quantitative", "scale": {"domain": [1174.68, 1229.65], "nice": false, "zero": false},
          "axis": {"orient": "bottom", "values": [1180,1190,1200,1210,1220], "tickSize": 9, "title": "Photon energy \u00a0(eV)"}},
    "y": {"field": "y", "type": "quantitative", "scale": {"domain": [-0.014, 3.607], "nice": false, "zero": false},
          "axis": {"orient": "left", "values": [0,1,2,3], "labels": false, "tickSize": -8, "title": null}},
    "detail": {"field": "s"}}},
  {"data": {"name": "sticks"}, "transform": [{"filter": "datum.p === 'd'"}],
   "mark": {"type": "rule", "color": "black", "strokeWidth": 1.3},
   "encoding": {
    "x": {"field": "x", "type": "quantitative", "scale": {"domain": [1174.68, 1229.65], "nice": false, "zero": false},
          "axis": {"orient": "top", "values": [1180,1190,1200,1210,1220], "labels": false, "title": null, "tickSize": 9}},
    "y": {"field": "h", "type": "quantitative", "scale": {"domain": [-0.014, 3.607], "nice": false, "zero": false},
          "axis": {"orient": "right", "values": [0,1,2,3], "labels": false, "title": null, "tickSize": -8}},
    "y2": {"datum": 0}}},
  {"data": {"name": "labels"}, "transform": [{"filter": "datum.p === 'd' && datum.r === 'L'"}],
   "mark": {"type": "text", "align": "left", "baseline": "alphabetic"},
   "encoding": {"x": {"field": "x", "type": "quantitative", "axis": null}, "y": {"field": "y", "type": "quantitative", "axis": null}, "text": {"field": "t"}}},
  {"data": {"name": "labels"}, "transform": [{"filter": "datum.p === 'd' && datum.r === 'S'"}],
   "mark": {"type": "text", "align": "left", "baseline": "alphabetic", "fontSize": 13, "dx": 46, "dy": 5},
   "encoding": {"x": {"field": "x", "type": "quantitative", "axis": null}, "y": {"field": "y", "type": "quantitative", "axis": null}, "text": {"field": "t"}}},
  {"data": {"name": "labels"}, "transform": [{"filter": "datum.p === 'd' && datum.r === 'E'"}],
   "mark": {"type": "text", "align": "left", "baseline": "alphabetic", "dx": 64.5},
   "encoding": {"x": {"field": "x", "type": "quantitative", "axis": null}, "y": {"field": "y", "type": "quantitative", "axis": null}, "text": {"field": "t"}}},
  {"data": {"name": "labels"}, "transform": [{"filter": "datum.p === 'd' && datum.r === 'R'"}],
   "mark": {"type": "text", "align": "right", "baseline": "alphabetic"},
   "encoding": {"x": {"field": "x", "type": "quantitative", "axis": null}, "y": {"field": "y", "type": "quantitative", "axis": null}, "text": {"field": "t"}}}
 ]
}
]
}
